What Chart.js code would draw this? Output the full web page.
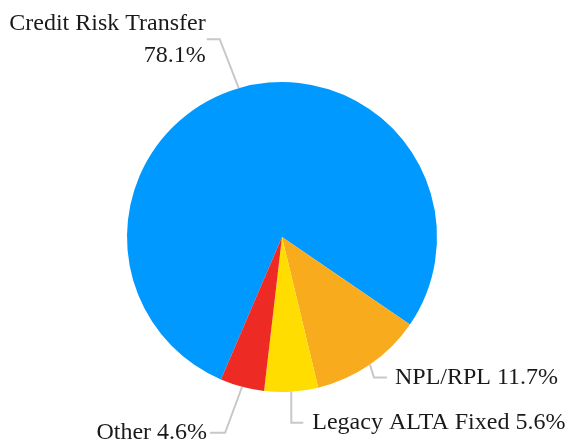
<!DOCTYPE html>
<html>
<head>
<meta charset="utf-8">
<script src="https://cdn.jsdelivr.net/npm/chart.js@4"></script>
<style>
  html, body { margin: 0; padding: 0; background: #fff; }
  #wrap { width: 569px; height: 443px; }
</style>
</head>
<body>
<div id="wrap"><canvas id="myChart" width="569" height="443"></canvas></div>
<script>
const categories = ['Credit Risk Transfer', 'NPL/RPL', 'Legacy ALTA Fixed', 'Other'];
const shares = [78.1, 11.7, 5.6, 4.6];
const valueLabels = ['78.1%', '11.7%', '5.6%', '4.6%'];
const sliceColors = ['#0099ff', '#f9ab1e', '#ffdd00', '#ee2a24'];

// leader line layout per slice: offset to the elbow, horizontal run, gap to text
const leaders = [
  { dx: -19, dy: -49, run: -13, gap: 1, twoLines: true },
  { dx: 4, dy: 13, run: 13, gap: 8 },
  { dx: 0, dy: 31, run: 12, gap: 9 },
  { dx: -17, dy: 46, run: -15, gap: 3 }
];

const pieLabels = {
  id: 'pieLabels',
  afterDraw(chart) {
    const ctx = chart.ctx;
    const arcs = chart.getDatasetMeta(0).data;
    ctx.save();
    ctx.font = '24px "Liberation Serif", "Times New Roman", serif';
    ctx.textBaseline = 'middle';
    arcs.forEach((arc, i) => {
      const mid = (arc.startAngle + arc.endAngle) / 2;
      const r = arc.outerRadius;
      const sx = arc.x + Math.cos(mid) * r;
      const sy = arc.y + Math.sin(mid) * r;
      const L = leaders[i];
      const ex = sx + L.dx;
      const ey = sy + L.dy;
      const hx = ex + L.run;
      ctx.strokeStyle = '#c8c8c8';
      ctx.lineWidth = 2;
      ctx.beginPath();
      ctx.moveTo(sx, sy);
      ctx.lineTo(ex, ey);
      ctx.lineTo(hx, ey);
      ctx.stroke();
      ctx.fillStyle = '#1a1a1a';
      const right = L.run < 0;
      ctx.textAlign = right ? 'right' : 'left';
      const tx = right ? hx - L.gap : hx + L.gap;
      if (L.twoLines) {
        ctx.fillText(categories[i], tx, ey - 15);
        ctx.fillText(valueLabels[i], tx, ey + 17);
      } else {
        ctx.fillText(categories[i] + ' ' + valueLabels[i], tx, ey);
      }
    });
    ctx.restore();
  }
};

new Chart(document.getElementById('myChart'), {
  type: 'pie',
  data: {
    labels: categories,
    datasets: [{
      data: shares,
      backgroundColor: sliceColors,
      borderWidth: 0
    }]
  },
  options: {
    responsive: false,
    animation: false,
    rotation: 203.2,
    layout: { padding: { left: 127, right: 132, top: 82, bottom: 51 } },
    plugins: {
      legend: { display: false },
      tooltip: { enabled: false }
    }
  },
  plugins: [pieLabels]
});
</script>
</body>
</html>
